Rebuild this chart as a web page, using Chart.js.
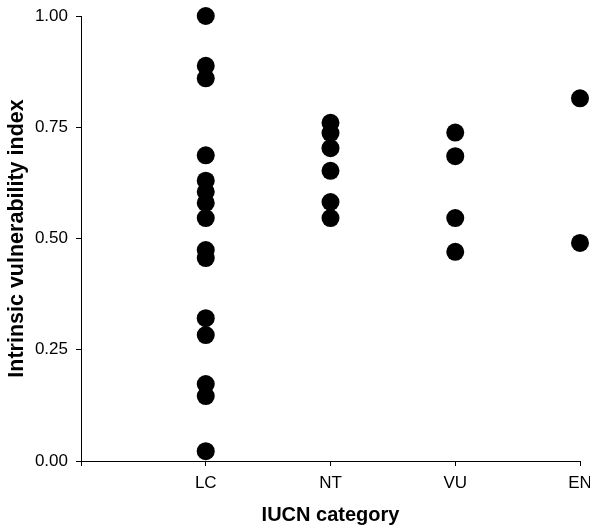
<!DOCTYPE html>
<html>
<head>
<meta charset="utf-8">
<script src="https://cdn.jsdelivr.net/npm/chart.js@4.4.1/dist/chart.umd.min.js"></script>
<style>
  html, body { margin: 0; padding: 0; background: #ffffff; }
  #wrap { width: 590px; height: 530px; }
</style>
</head>
<body>
<div id="wrap"><canvas id="c" width="590" height="530"></canvas></div>
<script>
const categories = ['LC', 'NT', 'VU', 'EN'];
const lcValues = [1.00, 0.888, 0.860, 0.687, 0.630, 0.605, 0.580, 0.546, 0.474, 0.456, 0.321, 0.283, 0.173, 0.146, 0.022];
const ntValues = [0.760, 0.737, 0.703, 0.652, 0.582, 0.546];
const vuValues = [0.738, 0.685, 0.546, 0.470];
const enValues = [0.815, 0.490];
const yTicks = [0, 0.25, 0.5, 0.75, 1.0];

const groups = [lcValues, ntValues, vuValues, enValues];
const points = [];
groups.forEach((vals, i) => vals.forEach(v => points.push({ x: i + 1, y: v })));

new Chart(document.getElementById('c'), {
  type: 'scatter',
  data: {
    datasets: [{
      data: points,
      backgroundColor: '#000000',
      borderWidth: 0,
      pointRadius: 9,
      pointHoverRadius: 9,
      clip: false
    }]
  },
  options: {
    responsive: false,
    animation: false,
    devicePixelRatio: 1,
    layout: { padding: { top: 16, right: 10, left: 0, bottom: 0 } },
    plugins: { legend: { display: false }, tooltip: { enabled: false } },
    scales: {
      x: {
        type: 'linear',
        min: 0,
        max: categories.length,
        afterBuildTicks: (s) => { s.ticks = [0, 1, 2, 3, 4].map(v => ({ value: v })); },
        ticks: {
          autoSkip: false,
          maxRotation: 0,
          padding: 7,
          color: '#000000',
          font: { family: 'Liberation Sans, Arial, sans-serif', size: 17 },
          callback: (v) => (v >= 1 && v <= categories.length) ? categories[v - 1] : ''
        },
        grid: { drawOnChartArea: false, drawTicks: true, tickLength: 5, color: '#000000' },
        border: { display: true, color: '#000000', width: 1 },
        title: {
          display: true,
          text: 'IUCN category',
          color: '#000000',
          font: { family: 'Liberation Sans, Arial, sans-serif', size: 20, weight: 'bold' },
          padding: { top: 0, bottom: 3 }
        },
        afterFit: (s) => { s.height = 69; s.paddingLeft = 0; s.paddingRight = 0; }
      },
      y: {
        min: 0,
        max: 1,
        afterBuildTicks: (s) => { s.ticks = yTicks.map(v => ({ value: v })); },
        ticks: {
          padding: 8,
          color: '#000000',
          font: { family: 'Liberation Sans, Arial, sans-serif', size: 17 },
          callback: (v) => Number(v).toFixed(2)
        },
        grid: { drawOnChartArea: false, drawTicks: true, tickLength: 5, color: '#000000' },
        border: { display: true, color: '#000000', width: 1 },
        title: {
          display: true,
          text: 'Intrinsic vulnerability index',
          color: '#000000',
          font: { family: 'Liberation Sans, Arial, sans-serif', size: 21.5, weight: 'bold' },
          padding: { top: 4, bottom: 0 }
        },
        afterFit: (s) => { s.width = 81; s.paddingTop = 0; s.paddingBottom = 0; }
      }
    }
  }
});
</script>
</body>
</html>
